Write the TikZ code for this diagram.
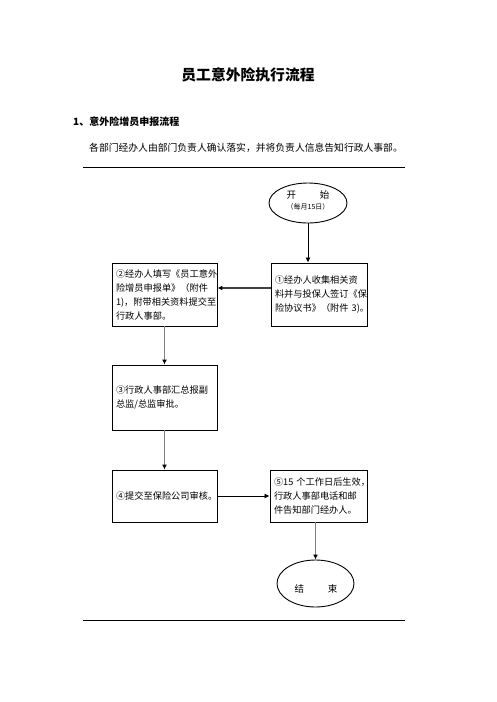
\documentclass[tikz,border=0pt]{standalone}
\usepackage{fontspec}
\newfontfamily\cjk{Noto Sans CJK SC}
\usetikzlibrary{arrows.meta,shapes.geometric}
\tikzset{
  stepbox/.style={draw, line width=0.9pt, inner xsep=4pt, inner ysep=2pt, align=left,
    font=\cjk\fontsize{9.2}{14}\selectfont},
  term/.style={draw, ellipse, line width=0.9pt, inner sep=0pt},
  greyarrow/.style={draw=black!50, line width=1.8pt, -{Latex[length=5pt,width=5pt,color=black]}},
  darkarrow/.style={draw=black!75, line width=1.2pt, -{Latex[length=5pt,width=5pt,color=black]}},
  thinarrow/.style={draw=black, line width=0.8pt, -{Latex[length=5pt,width=5pt]}},
  rule/.style={draw=black, line width=1pt}
}
\begin{document}
\begin{tikzpicture}[x=1pt,y=-1pt]
\useasboundingbox (0,0) rectangle (496,702);
\fill[white] (0,0) rectangle (496,702);

\node[font=\cjk\bfseries\fontsize{14.8}{16}\selectfont] (title) at (248,75) {员工意外险执行流程};
\node[font=\cjk\bfseries\fontsize{10}{12}\selectfont, anchor=west, inner sep=0pt] (sect) at (73,122) {1、意外险增员申报流程};
\node[font=\cjk\fontsize{9.8}{12}\selectfont, anchor=west, inner sep=0pt] (para) at (89,148) {各部门经办人由部门负责人确认落实，并将负责人信息告知行政人事部。};

\coordinate (t1) at (83,167);
\coordinate (t2) at (405,167);
\coordinate (b1) at (83,620);
\coordinate (b2) at (405,620);
\draw[rule] (t1) -- (t2);
\draw[rule] (b1) -- (b2);

\node[term, minimum width=78pt, minimum height=40pt] (start) at (308,203) {};
\node[font=\cjk\fontsize{9.5}{11}\selectfont, inner sep=0pt] (startA) at (308,195) {开\hspace{24pt}始};
\node[font=\cjk\fontsize{7}{9}\selectfont, inner sep=0pt] (startB) at (308,207) {（每月15日）};

\node[stepbox, minimum width=96pt, minimum height=63pt, text width=88pt] (box1) at (319,294.5)
  {\mbox{①经办人收集相关资}\\\mbox{料并与投保人签订《保}\\\mbox{险协议书》（附件 3)。}};
\node[stepbox, minimum width=105pt, minimum height=63pt, text width=97pt] (box2) at (164.5,294.5)
  {\mbox{②经办人填写《员工意外}\\\mbox{险增员申报单》（附件}\\\mbox{1)，附带相关资料提交至}\\\mbox{行政人事部。}};
\node[stepbox, minimum width=105pt, minimum height=65pt, text width=97pt] (box3) at (164.5,397.5)
  {\mbox{③行政人事部汇总报副}\\\mbox{总监/总监审批。}};
\node[stepbox, minimum width=105pt, minimum height=52pt, text width=97pt] (box4) at (164.5,496)
  {\mbox{④提交至保险公司审核。}};
\node[stepbox, minimum width=97pt, minimum height=52pt, text width=89pt] (box5) at (318.5,496)
  {\mbox{⑤15 个工作日后生效，}\\\mbox{行政人事部电话和邮}\\\mbox{件告知部门经办人。}};

\node[term, minimum width=77pt, minimum height=47pt] (finish) at (315.5,583.5) {};
\node[font=\cjk\fontsize{9.5}{11}\selectfont, inner sep=0pt] (finishA) at (316,589) {结\hspace{24pt}束};

\draw[thinarrow] (start.south) -- (start.south |- box1.north);
\draw[darkarrow] ([yshift=6.5pt]box1.west) -- ([yshift=6.5pt]box2.east);
\draw[greyarrow] (box2.south) -- (box3.north);
\draw[greyarrow] (box3.south) -- (box4.north);
\draw[thinarrow] (box4.east) -- (box5.west);
\draw[greyarrow] (finish.north |- box5.south) -- (finish.north);
\end{tikzpicture}
\end{document}
